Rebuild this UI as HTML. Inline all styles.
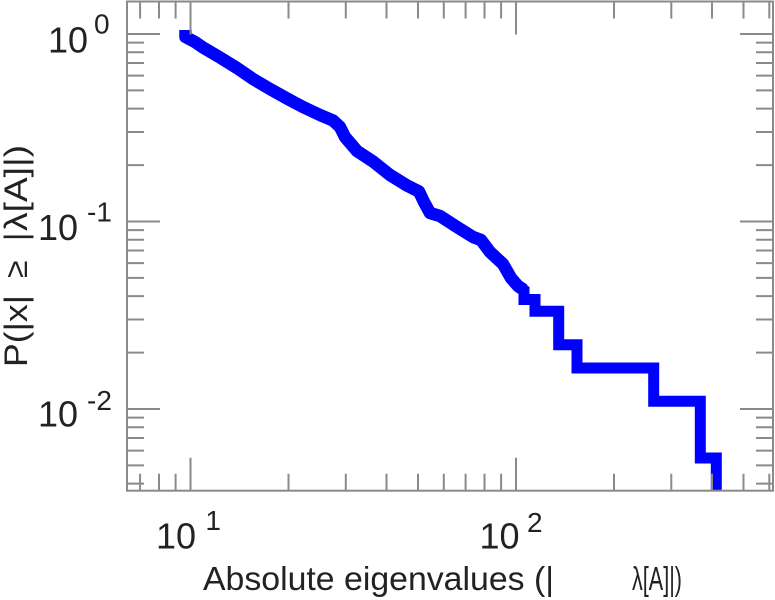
<!DOCTYPE html>
<html>
<head>
<meta charset="utf-8">
<style>
  html, body { margin: 0; padding: 0; background: #ffffff; }
  svg { display: block; }
  text { font-family: "Liberation Sans", "DejaVu Sans", sans-serif; fill: #222222; white-space: pre; }
</style>
</head>
<body>
<svg width="775" height="600" viewBox="0 0 775 600" xmlns="http://www.w3.org/2000/svg">
  <rect x="0" y="0" width="775" height="600" fill="#ffffff"/>
  <defs>
    <clipPath id="plotclip">
      <rect x="127" y="1.5" width="646" height="489.2"/>
    </clipPath>
  </defs>

  <!-- data series -->
  <g clip-path="url(#plotclip)">
    <path d="M185.5,30 L185.5,37 L195,42 L203,47.5 L220,57.5 L237,68 L253,79 L270,89 L287,98.5 L303,107 L320,115 L333,120.5 L340,127 L345,137 L357,151 L373,161.5 L390,175 L407,185.5 L419,191.5 L424,202 L430,213 L440,216 L457,227 L473,237 L481,240 L490,252 L503,264 L511,278 L518,286 L524,290"
          fill="none" stroke="#0000ff" stroke-width="12.5" stroke-linejoin="round" stroke-linecap="butt"/>
    <path d="M518,286 L524,290 L524,299.5 L535,299.5 L535,311.3 L558.7,311.3 L558.7,344.7 L577,344.7 L577,368 L653.7,368 L653.7,401.3 L700.3,401.3 L700.3,458 L716.3,458 L716.3,500"
          fill="none" stroke="#0000ff" stroke-width="11" stroke-linejoin="miter" stroke-linecap="butt"/>
  </g>

  <!-- axes frame -->
  <rect x="127" y="1.5" width="646" height="489.2" fill="none" stroke="#8a8a8a" stroke-width="2"/>

  <!-- ticks -->
  <g stroke="#8a8a8a" stroke-width="2">
    <path d="M140.1,490.7 V473.7 M159,490.7 V473.7 M175.6,490.7 V473.7
             M288.5,490.7 V473.7 M345.8,490.7 V473.7 M386.5,490.7 V473.7 M418,490.7 V473.7 M443.8,490.7 V473.7 M465.6,490.7 V473.7 M484.5,490.7 V473.7 M501.1,490.7 V473.7
             M614,490.7 V473.7 M671.3,490.7 V473.7 M712,490.7 V473.7 M743.5,490.7 V473.7 M769.3,490.7 V473.7"/>
    <path d="M190.5,490.7 V457.7 M516,490.7 V457.7"/>
    <path d="M140.1,1.5 V18.5 M159,1.5 V18.5 M175.6,1.5 V18.5
             M288.5,1.5 V18.5 M345.8,1.5 V18.5 M386.5,1.5 V18.5 M418,1.5 V18.5 M443.8,1.5 V18.5 M465.6,1.5 V18.5 M484.5,1.5 V18.5 M501.1,1.5 V18.5
             M614,1.5 V18.5 M671.3,1.5 V18.5 M712,1.5 V18.5 M743.5,1.5 V18.5 M769.3,1.5 V18.5"/>
    <path d="M190.5,1.5 V34.5 M516,1.5 V34.5"/>

    <path d="M127,42.6 H144 M127,52.2 H144 M127,63 H144 M127,75.6 H144 M127,90.4 H144 M127,108.6 H144 M127,132 H144 M127,165.1 H144
             M127,230.1 H144 M127,239.7 H144 M127,250.5 H144 M127,263.1 H144 M127,277.9 H144 M127,296.1 H144 M127,319.5 H144 M127,352.6 H144
             M127,417.6 H144 M127,427.2 H144 M127,438 H144 M127,450.6 H144 M127,465.4 H144 M127,483.6 H144"/>
    <path d="M127,34 H160 M127,221.5 H160 M127,409 H160"/>
    <path d="M773,42.6 H756 M773,52.2 H756 M773,63 H756 M773,75.6 H756 M773,90.4 H756 M773,108.6 H756 M773,132 H756 M773,165.1 H756
             M773,230.1 H756 M773,239.7 H756 M773,250.5 H756 M773,263.1 H756 M773,277.9 H756 M773,296.1 H756 M773,319.5 H756 M773,352.6 H756
             M773,417.6 H756 M773,427.2 H756 M773,438 H756 M773,450.6 H756 M773,465.4 H756 M773,483.6 H756"/>
    <path d="M773,34 H740 M773,221.5 H740 M773,409 H740"/>
  </g>

  <!-- y tick labels -->
  <text x="48" y="52.7" font-size="36">10</text>
  <text x="94" y="33.3" font-size="28">0</text>

  <text x="38" y="240" font-size="36">10</text>
  <text x="87" y="221.7" font-size="28">-1</text>

  <text x="38" y="426.7" font-size="36">10</text>
  <text x="87" y="410" font-size="28">-2</text>

  <!-- x tick labels -->
  <text x="156" y="548.3" font-size="36">10</text>
  <text x="205.4" y="530" font-size="28">1</text>

  <text x="479.5" y="548.3" font-size="36">10</text>
  <text x="527" y="532" font-size="28">2</text>

  <!-- x axis label -->
  <text x="203" y="590" font-size="33" textLength="351" lengthAdjust="spacingAndGlyphs">Absolute eigenvalues (|</text>
  <text x="632" y="590" font-size="33" textLength="50" lengthAdjust="spacingAndGlyphs">λ[A]|)</text>

  <!-- y axis label (rotated) -->
  <text transform="translate(27,367) rotate(-90)" font-size="32" textLength="72" lengthAdjust="spacingAndGlyphs">P(|x|</text>
  <text transform="translate(27,278) rotate(-90)" font-size="32">≥</text>
  <text transform="translate(27,241) rotate(-90)" font-size="32">|</text>
  <text transform="translate(27,231) rotate(-90)" font-size="32" textLength="86" lengthAdjust="spacingAndGlyphs">λ[A]|)</text>
</svg>
</body>
</html>
